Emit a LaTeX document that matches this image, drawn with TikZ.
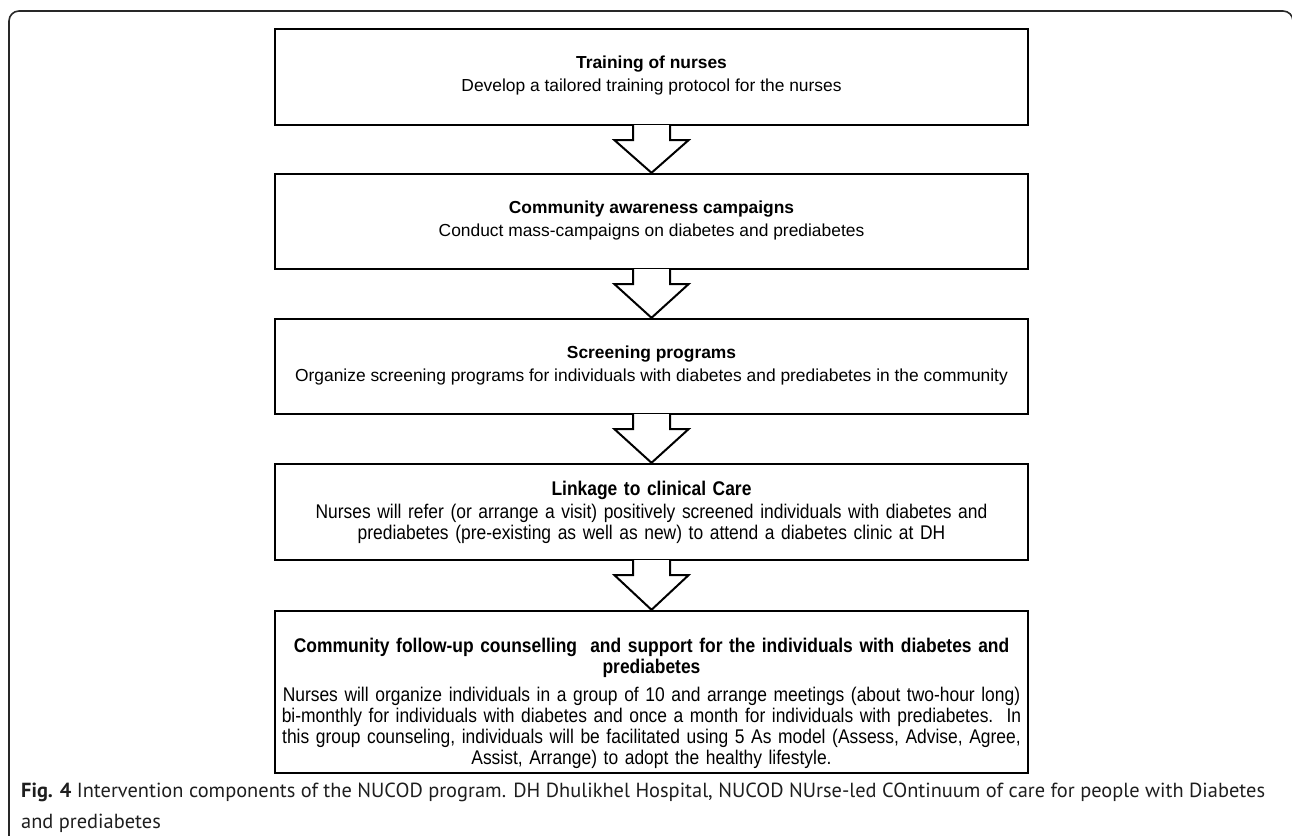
\documentclass[tikz,border=0pt]{standalone}
\usepackage{fontspec}
\setmainfont{Liberation Sans}
\newfontfamily\capfont{PT Sans}
\newfontfamily\narrowfont[FakeStretch=0.88]{Liberation Sans}
\usetikzlibrary{calc}
\begin{document}
\begin{tikzpicture}[x=1pt,y=-1pt,
 box/.style={draw=black, line width=2.4pt, minimum width=753pt, inner sep=0pt, fill=white},
 txt/.style={align=center, inner sep=0pt, anchor=north, font=\fontsize{17.4}{23}\selectfont},
 ntxt/.style={align=center, text width=745pt, inner sep=0pt, anchor=north, font=\narrowfont\fontsize{19.8}{21}\selectfont},
 flow/.style={draw=black, line width=2pt, fill=white, line join=miter},
 frame/.style={draw={rgb,255:red,40;green,40;blue,40}, line width=1.6pt, rounded corners=10pt},
 captxt/.style={anchor=north west, align=left, inner sep=0pt, font=\capfont\fontsize{20.4}{31}\selectfont, text={rgb,255:red,30;green,30;blue,30}}
]
\useasboundingbox (0,0) rectangle (1292,835);
\draw[frame] (9,845) -- (9,11) -- (1293,11) -- (1293,845);

\node[box, minimum height=96pt] (b1) at (651.5,77) {};
\node[box, minimum height=95pt] (b2) at (651.5,221.5) {};
\node[box, minimum height=95pt] (b3) at (651.5,366.5) {};
\node[box, minimum height=96pt] (b4) at (651.5,512) {};
\node[box, minimum height=162pt] (b5) at (651.5,692) {};

\foreach \u/\v in {b1/b2,b2/b3,b3/b4,b4/b5}{
  \path[flow] ($(\u.south)+(-18.5,-1.2)$) -- ($(\u.south)+(-18.5,14)$) -- ($(\u.south)+(-37,14)$) -- (\v.north) -- ($(\u.south)+(37,14)$) -- ($(\u.south)+(18.5,14)$) -- ($(\u.south)+(18.5,-1.2)$);
}

\node[txt] (t1) at ($(b1.north)+(0,28)$) {\textbf{Training of nurses}\\Develop a tailored training protocol for the nurses};
\node[txt] (t2) at ($(b2.north)+(0,28)$) {\textbf{Community awareness campaigns}\\Conduct mass-campaigns on diabetes and prediabetes};
\node[txt] (t3) at ($(b3.north)+(0,28)$) {\textbf{Screening programs}\\Organize screening programs for individuals with diabetes and prediabetes in the community};
\node[ntxt] (t4) at ($(b4.north)+(0,18)$) {\textbf{Linkage to clinical Care}\\[2pt]Nurses will refer (or arrange a visit) positively screened individuals with diabetes and\\prediabetes (pre-existing as well as new) to attend a diabetes clinic at DH};
\node[ntxt] (t5) at ($(b5.north)+(0,28)$) {\textbf{Community follow-up counselling\ \ and support for the individuals with diabetes and}\\\textbf{prediabetes}\\[7pt]Nurses will organize individuals in a group of 10 and arrange meetings (about two-hour long)\\bi-monthly for individuals with diabetes and once a month for individuals with prediabetes.\ \ In\\this group counseling, individuals will be facilitated using 5 As model (Assess, Advise, Agree,\\Assist, Arrange) to adopt the healthy lifestyle.};

\node[captxt] (cap) at (21,783) {\textbf{Fig. 4} Intervention components of the NUCOD program. DH Dhulikhel Hospital, NUCOD NUrse-led COntinuum of care for people with Diabetes\\and prediabetes};
\end{tikzpicture}
\end{document}
